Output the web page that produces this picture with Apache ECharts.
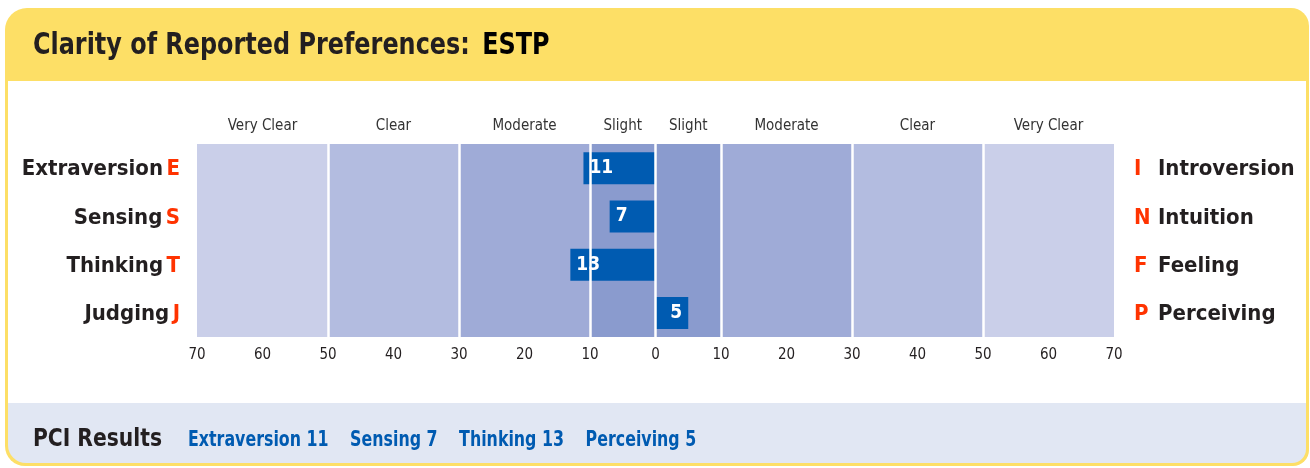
<!DOCTYPE html>
<html>
<head>
<meta charset="utf-8">
<title>Clarity of Reported Preferences</title>
<script src="https://cdn.jsdelivr.net/npm/echarts@6/dist/echarts.min.js"></script>
<style>
    html, body { margin: 0; padding: 0; background: #fff; }
    #main { width: 1310px; height: 468px; }
</style>
</head>
<body>
<div id="main"></div>
<script>
(function () {
    'use strict';

    // preference pairs, top to bottom
    var leftNames = ['Extraversion', 'Sensing', 'Thinking', 'Judging'];
    var leftLetters = ['E', 'S', 'T', 'J'];
    var rightNames = ['Introversion', 'Intuition', 'Feeling', 'Perceiving'];
    var rightLetters = ['I', 'N', 'F', 'P'];
    // negative = left pole, positive = right pole
    var scores = [-11, -7, -13, 5];

    // clarity bands
    var bandEdges = [-70, -50, -30, -10, 0, 10, 30, 50, 70];
    var bandNames = ['Very Clear', 'Clear', 'Moderate', 'Slight', 'Slight', 'Moderate', 'Clear', 'Very Clear'];
    var bandColors = ['#cacfe9', '#b3bce0', '#9fabd7', '#8a9bce', '#8a9bce', '#9fabd7', '#b3bce0', '#cacfe9'];

    var FONT = '"Liberation Sans Narrow", "DejaVu Sans Condensed", "Liberation Sans", sans-serif';
    var DARK = '#231f20';
    var RED = '#ff3300';
    var BLUE = '#005bb1';

    var typeCode = scores.map(function (s, i) {
        return s < 0 ? leftLetters[i] : rightLetters[i];
    }).join('');

    var results = scores.map(function (s, i) {
        return (s < 0 ? leftNames[i] : rightNames[i]) + ' ' + Math.abs(s);
    });

    var myChart = echarts.init(document.getElementById('main'));

    var bandAreas = bandNames.map(function (name, i) {
        return [
            { name: name, xAxis: bandEdges[i], itemStyle: { color: bandColors[i] } },
            { xAxis: bandEdges[i + 1] }
        ];
    });

    var separators = bandEdges.slice(1, -1).map(function (v) {
        return { xAxis: v };
    });

    // footer results, narrowed a bit to look like the condensed face
    var footerRich = {};
    var footerText = '';
    results.forEach(function (r, i) {
        footerRich['v' + i] = {
            fontSize: 22, fontWeight: 'bold', fill: BLUE, fontFamily: FONT,
            padding: [0, 0, 0, i === 0 ? 0 : 27]
        };
        footerText += '{v' + i + '|' + r + '}';
    });

    var option = {
        animation: false,
        textStyle: { fontFamily: FONT },
        graphic: {
            elements: [
                {
                    type: 'rect', z: -10, silent: true,
                    shape: { x: 5, y: 8, width: 1304, height: 458, r: [22, 18, 16, 20] },
                    style: { fill: '#fddf66' }
                },
                {
                    type: 'rect', z: -9, silent: true,
                    shape: { x: 8, y: 81, width: 1298, height: 322 },
                    style: { fill: '#fff' }
                },
                {
                    type: 'rect', z: -9, silent: true,
                    shape: { x: 8, y: 403, width: 1298, height: 60, r: [0, 0, 14, 18] },
                    style: { fill: '#e1e7f3' }
                },
                {
                    type: 'text', z: 10, x: 33, y: 46, scaleX: 0.886, silent: true,
                    style: {
                        text: '{a|Clarity of Reported Preferences:}{b|' + typeCode + '}',
                        verticalAlign: 'middle',
                        rich: {
                            a: { fontSize: 30, fontWeight: 'bold', fill: DARK, fontFamily: FONT },
                            b: { fontSize: 30, fontWeight: 'bold', fill: '#000', fontFamily: FONT, padding: [0, 0, 0, 14] }
                        }
                    }
                },
                {
                    type: 'text', z: 10, x: 33, y: 440, scaleX: 0.94, silent: true,
                    style: {
                        text: 'PCI Results',
                        verticalAlign: 'middle',
                        fontSize: 24, fontWeight: 'bold', fill: DARK, fontFamily: FONT
                    }
                },
                {
                    type: 'text', z: 10, x: 188, y: 440, scaleX: 0.8, silent: true,
                    style: { text: footerText, verticalAlign: 'middle', rich: footerRich }
                }
            ]
        },
        grid: { left: 197, right: 196, top: 144, bottom: 131 },
        xAxis: {
            type: 'value',
            min: -70,
            max: 70,
            interval: 10,
            axisLine: { show: false },
            axisTick: { show: false },
            splitLine: { show: false },
            axisLabel: {
                margin: 11,
                fontSize: 15,
                color: DARK,
                formatter: function (v) { return Math.abs(v); }
            }
        },
        yAxis: [
            {
                type: 'category',
                data: leftNames,
                inverse: true,
                position: 'left',
                axisLine: { show: false },
                axisTick: { show: false },
                axisLabel: {
                    margin: 17,
                    formatter: function (v, i) {
                        return '{n|' + v + '} {l|' + leftLetters[i] + '}';
                    },
                    rich: {
                        n: { fontSize: 22, fontWeight: 'bold', color: DARK, fontFamily: FONT, padding: [3, 0, 0, 0] },
                        l: { fontSize: 22, fontWeight: 'bold', color: RED, fontFamily: FONT, padding: [3, 0, 0, 0] }
                    }
                }
            },
            {
                type: 'category',
                data: rightNames,
                inverse: true,
                position: 'right',
                axisLine: { show: false },
                axisTick: { show: false },
                axisLabel: {
                    margin: 20,
                    formatter: function (v, i) {
                        return '{l|' + rightLetters[i] + '}{n|' + v + '}';
                    },
                    rich: {
                        l: { fontSize: 22, fontWeight: 'bold', color: RED, fontFamily: FONT, width: 24, align: 'left', padding: [3, 0, 0, 0] },
                        n: { fontSize: 22, fontWeight: 'bold', color: DARK, fontFamily: FONT, padding: [3, 0, 0, 0] }
                    }
                }
            }
        ],
        series: [
            {
                name: 'bands',
                type: 'line',
                data: [],
                z: 1,
                silent: true,
                markArea: {
                    silent: true,
                    label: {
                        show: true,
                        position: 'top',
                        distance: 10,
                        fontSize: 15,
                        color: '#333',
                        fontFamily: FONT
                    },
                    data: bandAreas
                },
                markLine: {
                    silent: true,
                    symbol: ['none', 'none'],
                    label: { show: false },
                    lineStyle: { color: '#fff', width: 2.5, type: 'solid' },
                    data: separators
                }
            },
            {
                name: 'score',
                type: 'bar',
                z: 3,
                yAxisIndex: 0,
                barWidth: 32,
                itemStyle: { color: BLUE },
                data: scores.map(function (s) {
                    return {
                        value: s,
                        label: { position: s < 0 ? 'insideLeft' : 'insideRight' }
                    };
                }),
                label: {
                    show: true,
                    distance: 6,
                    color: '#fff',
                    fontSize: 19,
                    fontWeight: 'bold',
                    fontFamily: FONT,
                    formatter: function (p) { return Math.abs(p.value); }
                }
            }
        ]
    };

    myChart.setOption(option);
})();
</script>
</body>
</html>
